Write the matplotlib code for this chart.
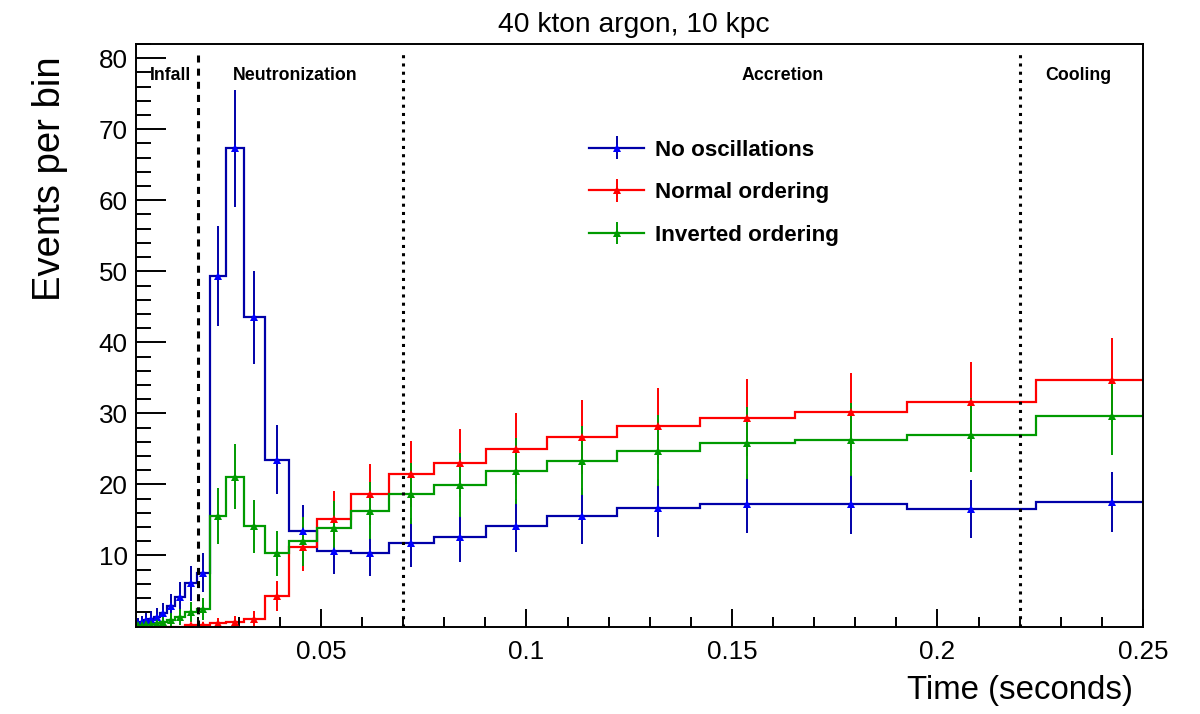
import matplotlib
matplotlib.use("Agg")
import matplotlib.pyplot as plt
import numpy as np
from matplotlib import font_manager
from matplotlib.lines import Line2D
from matplotlib.legend_handler import HandlerTuple
from matplotlib.ticker import MultipleLocator, FixedLocator

# log-spaced time bins (seconds)
edges = [0.00434, 0.00505, 0.00588, 0.00684, 0.00796, 0.00926, 0.01078,
         0.01255, 0.01460, 0.01699, 0.01978, 0.02302, 0.02679, 0.03117,
         0.03628, 0.04222, 0.04914, 0.05719, 0.06656, 0.07746, 0.09015,
         0.10492, 0.12211, 0.14211, 0.16538, 0.19247, 0.22400, 0.26069]

# events per bin
no_osc = [0.4, 0.5, 0.7, 0.9, 1.1, 1.4, 1.9, 2.9, 4.2, 6.1, 7.6, 49.4, 67.3,
          43.5, 23.5, 13.5, 10.6, 10.4, 11.8, 12.6, 14.2, 15.5, 16.7, 17.3,
          17.2, 16.5, 17.5]
normal = [0.0, 0.0, 0.0, 0.0, 0.0, 0.0, 0.0, 0.0, 0.0, 0.15, 0.2, 0.5, 0.7,
          1.1, 4.3, 11.2, 15.2, 18.6, 21.5, 23.0, 25.0, 26.7, 28.25, 29.4,
          30.2, 31.6, 34.7]
inverted = [0.1, 0.15, 0.2, 0.3, 0.4, 0.5, 0.65, 0.9, 1.35, 2.0, 2.4, 15.5,
            21.1, 14.1, 10.3, 12.0, 13.9, 16.3, 18.7, 19.95, 21.9, 23.35,
            24.75, 25.8, 26.3, 27.0, 29.6]

labels = ["No oscillations", "Normal ordering", "Inverted ordering"]
line_colors = ["#0000a8", "#ff0000", "#009a00"]
mark_colors = ["#0000ff", "#ff0000", "#009a00"]

phase_times = [0.02, 0.07, 0.22]
phase_names = ["Infall", "Neutronization", "Accretion", "Cooling"]

try:
    font_manager.findfont("Liberation Sans Narrow", fallback_to_default=False)
    plt.rcParams['font.family'] = ["Liberation Sans Narrow", "Liberation Sans"]
    sc = 1.18
except ValueError:
    plt.rcParams['font.family'] = ["Liberation Sans"]
    sc = 1.0

xmin, xmax = 0.005, 0.25
ymin, ymax = 0.0, 82.0

fig = plt.figure(figsize=(12, 7.14), dpi=100)
ax = fig.add_axes([136/1200, 1-626.5/714, (1143-136)/1200, (626.5-44)/714])

e = np.array(edges)
centers = 0.5*(e[:-1]+e[1:])

handles = []
for vals, lc, mc in zip([no_osc, normal, inverted], line_colors, mark_colors):
    v = np.array(vals)
    ax.stairs(v, e, color=lc, lw=1.6)
    keep = (v > 0) & (centers > xmin)
    eb = ax.errorbar(centers[keep], v[keep], yerr=np.sqrt(v[keep]), fmt='^',
                     color=mc, ecolor=lc, elinewidth=1.4, ms=6, mew=0,
                     capsize=0)
    handles.append((Line2D([], [], color=lc, lw=1.6), eb))

# phase boundaries
ax.vlines(phase_times[0], 0, 81, colors='k', lw=2.2, linestyles=(0, (2.3, 2.0)))
for t in phase_times[1:]:
    ax.vlines(t, 0, 81, colors='k', lw=2.2, linestyles=(0, (1, 1.7)))

lab_x = [0.0084, 0.0286, 0.1524, 0.2262]
for x, name in zip(lab_x, phase_names):
    ax.text(x, 77.5, name, fontsize=12.8*sc, fontweight='bold', ha='left', va='center')

ax.set_xlim(xmin, xmax)
ax.set_ylim(ymin, ymax)
ax.xaxis.set_major_locator(FixedLocator([0.05, 0.1, 0.15, 0.2, 0.25]))
ax.set_xticklabels(["0.05", "0.1", "0.15", "0.2", "0.25"])
ax.xaxis.set_minor_locator(MultipleLocator(0.01))
ax.yaxis.set_major_locator(FixedLocator(np.arange(10, 81, 10)))
ax.yaxis.set_minor_locator(MultipleLocator(2))

ax.tick_params(which='both', direction='in', top=False, right=False, width=1.4,
               labelsize=18.7*sc)
ax.tick_params(axis='x', which='major', length=13, pad=10)
ax.tick_params(axis='x', which='minor', length=7)
ax.tick_params(axis='y', which='major', length=21.6, pad=6)
ax.tick_params(axis='y', which='minor', length=10.8)
for s in ax.spines.values():
    s.set_linewidth(1.4)

leg = ax.legend(handles, labels, loc='upper left', bbox_to_anchor=(0.45, 0.836),
                frameon=False, prop={'weight': 'bold', 'size': 16.15*sc},
                handlelength=2.45, handletextpad=0.5, labelspacing=0.97,
                borderpad=0, borderaxespad=0,
                handler_map={tuple: HandlerTuple(ndivide=1)})

fig.text(634/1200, 1-25/714, "40 kton argon, 10 kpc", fontsize=20.3*sc,
         ha='center', va='center')
fig.text(1133/1200, 1-690/714, "Time (seconds)", fontsize=23.8*sc,
         ha='right', va='center')
fig.text(50/1200, 1-179/714, "Events per bin", fontsize=27.5*sc, rotation=90,
         ha='center', va='center')

fig.savefig("out.png", dpi=100)
